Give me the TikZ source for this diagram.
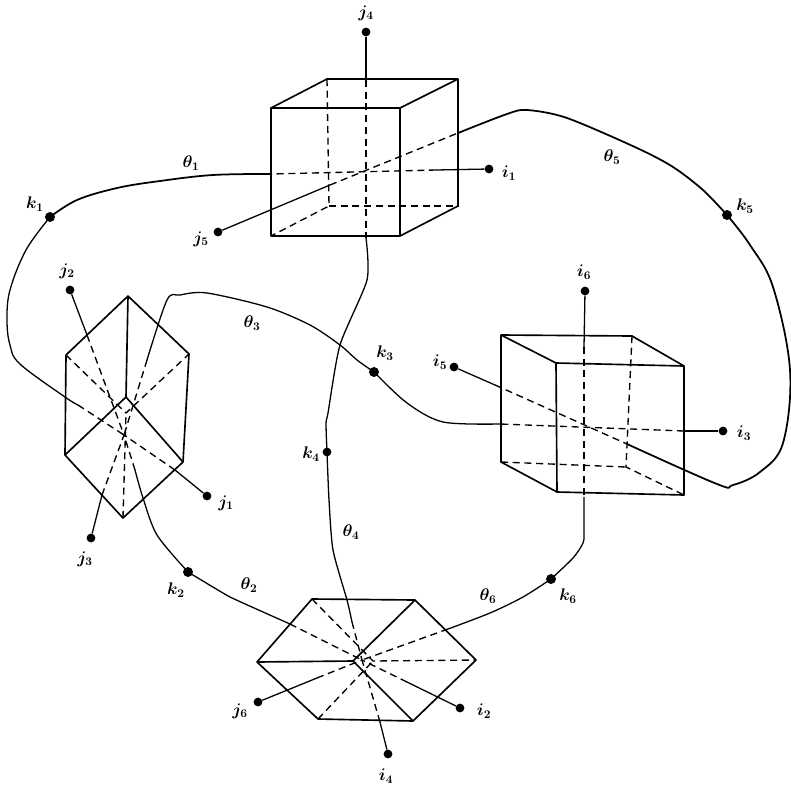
\documentclass[tikz,border=0pt]{standalone}
\usepackage{amsmath}
\usetikzlibrary{positioning}

\begin{document}
\begin{tikzpicture}[
  x=0.03cm, y=-0.03cm,
  edge/.style={line width=1.4pt, line join=round},
  hidden/.style={line width=1.15pt, dash pattern=on 6pt off 4pt},
  wire/.style={line width=1.1pt, line join=round},
  heavywire/.style={line width=1.5pt, line join=round},
  knot/.style={circle, fill=black, inner sep=0pt, minimum size=7.5pt},
  bigknot/.style={knot, minimum size=8.5pt},
  tag/.style={inner sep=0pt, font=\fontsize{14}{16}\selectfont\boldmath}
]
\useasboundingbox (0,0) rectangle (791,784);

% end points
\node[knot] (j4) at (366,32) {};
\node[knot] (i1) at (489,169) {};
\node[knot] (j5) at (218,232) {};
\node[knot] (j2) at (70,290) {};
\node[knot] (i6) at (585,291) {};
\node[knot] (i5) at (454,367) {};
\node[knot] (i3) at (723,431) {};
\node[knot] (j1) at (207,496) {};
\node[knot] (j3) at (91,538) {};
\node[knot] (j6) at (258,702) {};
\node[knot] (i2) at (460,708) {};
\node[knot] (i4) at (388,754) {};
\node[bigknot] (k1) at (50,217) {};
\node[bigknot] (k5) at (727,215) {};
\node[bigknot] (k3) at (374,372) {};
\node[knot] (k4) at (327,452) {};
\node[bigknot] (k2) at (188,572) {};
\node[bigknot] (k6) at (551,579) {};

% labels
\node[tag] (lj4) at (366,13) {$j_4$};
\node[tag] (li1) at (509,173) {$i_1$};
\node[tag] (lj5) at (201,239) {$j_5$};
\node[tag] (lj2) at (67,271) {$j_2$};
\node[tag] (li6) at (584,272) {$i_6$};
\node[tag] (li5) at (440,362) {$i_5$};
\node[tag] (li3) at (744,433) {$i_3$};
\node[tag] (lj1) at (226,503) {$j_1$};
\node[tag] (lj3) at (85,559) {$j_3$};
\node[tag] (lj6) at (240,711) {$j_6$};
\node[tag] (li2) at (484,711) {$i_2$};
\node[tag] (li4) at (386,776) {$i_4$};
\node[tag] (lk1) at (35,204) {$k_1$};
\node[tag] (lk5) at (745,206) {$k_5$};
\node[tag] (lk3) at (385,353) {$k_3$};
\node[tag] (lk4) at (311,454) {$k_4$};
\node[tag] (lk2) at (176,590) {$k_2$};
\node[tag] (lk6) at (568,596) {$k_6$};
\node[tag] (lt1) at (191,163) {$\theta_1$};
\node[tag] (lt5) at (612,157) {$\theta_5$};
\node[tag] (lt3) at (252,323) {$\theta_3$};
\node[tag] (lt4) at (351,532) {$\theta_4$};
\node[tag] (lt2) at (249,585) {$\theta_2$};
\node[tag] (lt6) at (488,596) {$\theta_6$};

% top cube
\coordinate (aftl) at (271,108);
\coordinate (aftr) at (400,108);
\coordinate (afbr) at (400,236);
\coordinate (afbl) at (271,236);
\coordinate (abtl) at (327,79);
\coordinate (abtr) at (458,79);
\coordinate (abbr) at (458,206);
\coordinate (abbl) at (329,206);
\draw[edge] (aftl) -- (aftr) -- (afbr) -- (afbl) -- cycle;
\draw[edge] (aftl) -- (abtl) -- (abtr) -- (aftr);
\draw[edge] (abtr) -- (abbr) -- (afbr);
\draw[hidden] (abtl) -- (abbl) -- (afbl);
\draw[hidden] (abbl) -- (abbr);

% right cube
\coordinate (cbtl) at (501,335);
\coordinate (cbtr) at (632,336);
\coordinate (cftl) at (556,363);
\coordinate (cftr) at (684,366);
\coordinate (cfbr) at (684,495);
\coordinate (cfbl) at (557,492);
\coordinate (cbbl) at (501,462);
\coordinate (cbbr) at (626,467);
\draw[edge] (cftl) -- (cftr) -- (cfbr) -- (cfbl) -- cycle;
\draw[edge] (cftl) -- (cbtl) -- (cbtr) -- (cftr);
\draw[edge] (cbtl) -- (cbbl) -- (cfbl);
\draw[hidden] (cbtr) -- (cbbr) -- (cfbr);
\draw[hidden] (cbbl) -- (cbbr);

% left hexagon
\coordinate (btop) at (128,296);
\coordinate (bur) at (189,354);
\coordinate (blr) at (183,462);
\coordinate (bbot) at (123,518);
\coordinate (bll) at (65,455);
\coordinate (bul) at (66,355);
\coordinate (binn) at (126,397);
\coordinate (bhid) at (126,413);
\coordinate (bmid) at (124,435);
\draw[edge] (btop) -- (bur) -- (blr) -- (bbot) -- (bll) -- (bul) -- cycle;
\draw[edge] (btop) -- (binn) -- (bll);
\draw[edge] (binn) -- (blr);
\draw[hidden] (bul) -- (bhid) -- (bur);
\draw[hidden] (bbot) -- (bhid);

% bottom hexagon
\coordinate (dul) at (312,599);
\coordinate (dur) at (415,600);
\coordinate (drt) at (476,660);
\coordinate (dlr) at (413,721);
\coordinate (dll) at (318,719);
\coordinate (dlt) at (257,662);
\coordinate (dinn) at (353,661);
\coordinate (dhid) at (373,661);
\coordinate (dmid) at (362,660);
\draw[edge] (dul) -- (dur) -- (drt) -- (dlr) -- (dll) -- (dlt) -- cycle;
\draw[edge] (dlt) -- (dinn) -- (dur);
\draw[edge] (dinn) -- (dlr);
\draw[hidden] (dul) -- (dhid) -- (drt);
\draw[hidden] (dll) -- (dhid);

% straight spokes
\coordinate (s1) at (366,80);
\coordinate (s2) at (436,170);
\coordinate (s3) at (330,185);
\coordinate (s4) at (87,335);
\coordinate (s5) at (175,470);
\coordinate (s6) at (102,495);
\coordinate (s7) at (584,347);
\coordinate (s8) at (495,385);
\coordinate (s9) at (684,431);
\coordinate (s10) at (317,678);
\coordinate (s11) at (407,682);
\coordinate (s12) at (380,722);
\draw[wire] (j4) -- (s1);
\draw[wire] (i1) -- (s2);
\draw[wire] (j5) -- (s3);
\draw[wire] (j2) -- (s4);
\draw[wire] (j1) -- (s5);
\draw[wire] (j3) -- (s6);
\draw[wire] (i6) -- (s7);
\draw[wire] (i5) -- (s8);
\draw[wire] (i3) -- (s9);
\draw[wire] (j6) -- (s10);
\draw[wire] (i2) -- (s11);
\draw[wire] (i4) -- (s12);

% curved wires
\coordinate (w1) at (271,174);
\coordinate (w2) at (78,405);
\coordinate (w3) at (458,133);
\coordinate (w4) at (627,444);
\coordinate (w5) at (500,424);
\coordinate (w6) at (147,360);
\coordinate (w7) at (366,238);
\coordinate (w8) at (352,622);
\coordinate (w9) at (135,470);
\coordinate (w10) at (290,624);
\coordinate (w11) at (584,497);
\coordinate (w12) at (448,629);
\draw[heavywire] plot[smooth, tension=0.6] coordinates {(w1) (213,175) (160,181) (117,188) (77,200) (k1)};
\draw[wire] plot[smooth, tension=0.6] coordinates {(k1) (26,250) (10,290) (7,320) (10,345) (20,364) (65,397) (w2)};
\draw[heavywire] plot[smooth, tension=0.5] coordinates {(w3) (507,114) (527,110) (567,118) (637,148) (673,167) (703,190) (k5)};
\draw[heavywire] plot[smooth, tension=0.6] coordinates {(k5) (750,245) (773,287) (790,370) (783,443) (760,472) (733,485) (717,484) (w4)};
\draw[wire] plot[smooth, tension=0.5] coordinates {(w5) (443,422) (407,403) (k3)};
\draw[wire] plot[smooth, tension=0.5] coordinates {(k3) (357,360) (340,345) (310,325) (267,307) (207,293) (180,295) (167,300) (w6)};
\draw[wire] plot[smooth, tension=0.4] coordinates {(w7) (367,280) (340,345) (328,413) (326,423) (k4)};
\draw[wire] plot[smooth, tension=0.4] coordinates {(k4) (329,500) (333,550) (347,600) (w8)};
\draw[wire] plot[smooth, tension=0.5] coordinates {(w9) (143,498) (157,535) (k2)};
\draw[wire] plot[smooth, tension=0.2] coordinates {(k2) (230,597) (w10)};
\draw[wire] plot[smooth, tension=0.5] coordinates {(w11) (584,533) (583,543) (573,558) (k6)};
\draw[wire] plot[smooth, tension=0.5] coordinates {(k6) (523,597) (490,613) (w12)};

% hidden parts of the spokes
\draw[hidden] (s1) -- (w7);
\draw[hidden] (s2) -- (w1);
\draw[hidden] (s3) -- (w3);
\draw[hidden] (s4) -- (bmid);
\draw[hidden] (s5) -- (bmid);
\draw[hidden] (s6) -- (bmid);
\draw[hidden] (w2) -- (bmid);
\draw[hidden] (w6) -- (bmid);
\draw[hidden] (w9) -- (bmid);
\draw[hidden] (s7) -- (w11);
\draw[hidden] (s8) -- (w4);
\draw[hidden] (s9) -- (w5);
\draw[hidden] (s10) -- (dmid);
\draw[hidden] (s11) -- (dmid);
\draw[hidden] (s12) -- (dmid);
\draw[hidden] (w8) -- (dmid);
\draw[hidden] (w10) -- (dmid);
\draw[hidden] (w12) -- (dmid);
\end{tikzpicture}
\end{document}
